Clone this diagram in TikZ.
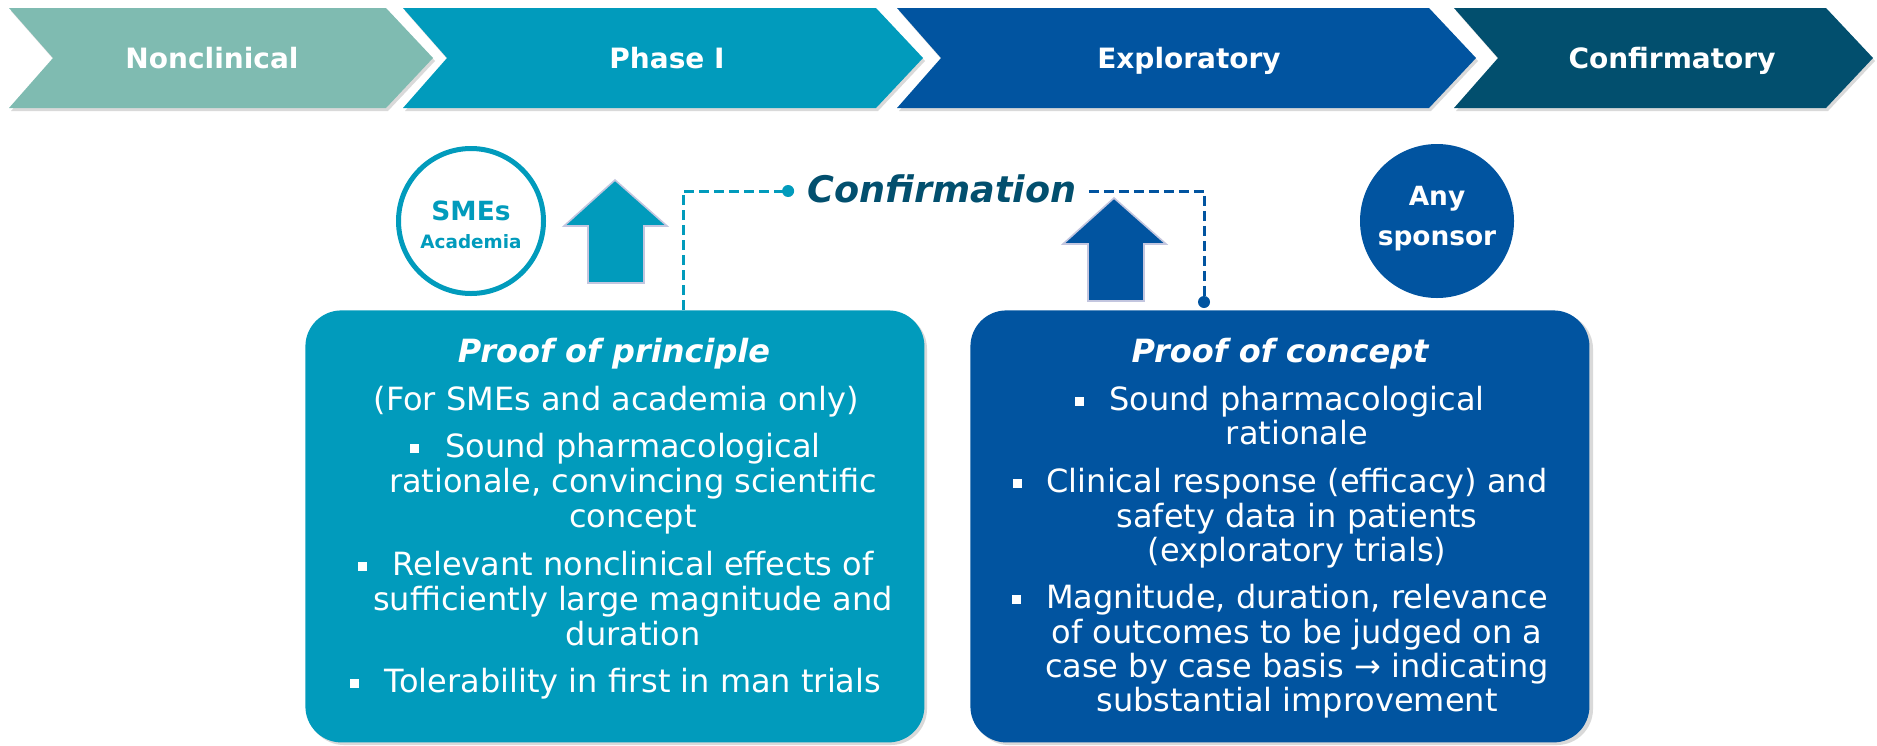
\documentclass[tikz,border=0pt]{standalone}
\usepackage{fontspec}
\setmainfont{DejaVu Sans}
\usetikzlibrary{calc}

\definecolor{cNon}{HTML}{7FBBB1}
\definecolor{cPh}{HTML}{019BBC}
\definecolor{cExp}{HTML}{0154A0}
\definecolor{cConf}{HTML}{024F6E}
\definecolor{cRim}{HTML}{C3C6DF}

\begin{document}
\begin{tikzpicture}[x=0.5pt,y=-0.5pt,
  chevlab/.style={text=white,font=\fontsize{14}{16}\selectfont\bfseries,anchor=base,inner sep=0pt},
  shade/.style={fill=black,opacity=.15},
  body/.style={text=white,font=\fontsize{16}{18}\selectfont,inner sep=0pt,anchor=mid},
  headline/.style={text=white,font=\fontsize{16}{18}\selectfont\bfseries\itshape,inner sep=0pt,anchor=mid},
  bul/.style={fill=white,minimum size=4.5pt,inner sep=0pt},
  card/.style={rounded corners=18pt,minimum width=309.5pt,minimum height=216pt,anchor=north west,inner sep=0pt},
  uparrow/.style={draw=cRim,line width=0.8pt,line join=miter},
  dashline/.style={line width=1.5pt,dash pattern=on 5pt off 2.5pt},
  circlab/.style={font=\fontsize{13.2}{15}\selectfont\bfseries,inner sep=0pt,anchor=base}
]
\useasboundingbox (0,0) rectangle (1877,745);

% phase chevrons along the top
\foreach \a/\b/\c in {9/386/cNon, 403/876/cPh, 897/1429/cExp, 1454/1826/cConf} {
  \fill[shade] (\a+2,11) -- (\b+2,11) -- (\b+49,61) -- (\b+2,111) -- (\a+2,111) -- (\a+46,61) -- cycle;
  \fill[\c] (\a,8) -- (\b,8) -- (\b+47,58) -- (\b,108) -- (\a,108) -- (\a+44,58) -- cycle;
}
\node[chevlab] (nonclin) at (212,68) {Nonclinical};
\node[chevlab] (phase1) at (667,68) {Phase I};
\node[chevlab] (explor) at (1189,68) {Exploratory};
\node[chevlab] (confirm) at (1672,68) {Confirmatory};

% the two cards
\fill[shade,rounded corners=18pt] (308,313) rectangle (927,745);
\fill[shade,rounded corners=18pt] (973,313) rectangle (1593,745);
\node[card,fill=cPh] (ppr) at (305,310) {};
\node[card,fill=cExp] (poc) at (970,310) {};

% block arrows
\filldraw[uparrow,fill=cPh] (588,283) -- (588,226) -- (564,226) -- (615,180) -- (667,226) -- (644,226) -- (644,283) -- cycle;
\filldraw[uparrow,fill=cExp] (1088,301) -- (1088,244) -- (1063,244) -- (1114,198) -- (1166,244) -- (1144,244) -- (1144,301) -- cycle;

% who may ask
\node[circle,draw=cPh,line width=2.5pt,fill=white,minimum size=72.5pt,inner sep=0pt] (smes) at (471,221) {};
\node[circlab,text=cPh] (smesA) at (471,220) {SMEs};
\node[circlab,text=cPh,font=\fontsize{9.2}{11}\selectfont\bfseries] (smesB) at (471,248) {Academia};
\node[circle,fill=cExp,minimum size=77pt,inner sep=0pt] (anysp) at (1437,221) {};
\node[circlab,text=white] (anyA) at (1437,205) {Any};
\node[circlab,text=white] (anyB) at (1437,245) {sponsor};

% confirmation link between the cards
\node[text=cConf,font=\fontsize{18.3}{21}\selectfont\bfseries\itshape,inner sep=0pt] (conf) at (942,189) {Confirmation};
\coordinate (colL) at (683,0);
\coordinate (colR) at (1204,0);
\coordinate (dotL) at ($(conf.west)+(-19,2)$);
\coordinate (startR) at ($(conf.east)+(12,2)$);
\coordinate (dotR) at ($(colR |- poc.north)+(0,-8)$);
\draw[dashline,cPh] (colL |- ppr.north) |- (dotL);
\fill[cPh] (dotL) circle (3pt);
\draw[dashline,cExp] (startR) -| (dotR);
\fill[cExp] (dotR) circle (3pt);

% proof of principle
\node[headline] (pprT) at (614,357) {Proof of principle};
\node[body] (pprS) at (616,405) {(For SMEs and academia only)};
\node[body] (pprA1) at (633,452) {Sound pharmacological};
\node[body] (pprA2) at (633,487) {rationale, convincing scientific};
\node[body] (pprA3) at (633,522) {concept};
\node[body] (pprB1) at (633,570) {Relevant nonclinical effects of};
\node[body] (pprB2) at (633,605) {sufficiently large magnitude and};
\node[body] (pprB3) at (633,640) {duration};
\node[body] (pprC1) at (633,687) {Tolerability in first in man trials};
\node[bul] (pprAb) at ($(pprA1.mid west)+(-30,-4)$) {};
\node[bul] (pprBb) at ($(pprB1.mid west)+(-30,-4)$) {};
\node[bul] (pprCb) at ($(pprC1.mid west)+(-30,-4)$) {};

% proof of concept
\node[headline] (pocT) at (1280,357) {Proof of concept};
\node[body] (pocA1) at (1297,405) {Sound pharmacological};
\node[body] (pocA2) at (1297,439) {rationale};
\node[body] (pocB1) at (1297,487) {Clinical response (efficacy) and};
\node[body] (pocB2) at (1297,522) {safety data in patients};
\node[body] (pocB3) at (1297,556) {(exploratory trials)};
\node[body] (pocC1) at (1297,603) {Magnitude, duration, relevance};
\node[body] (pocC2) at (1297,638) {of outcomes to be judged on a};
\node[body] (pocC3) at (1297,672) {case by case basis → indicating};
\node[body] (pocC4) at (1297,706) {substantial improvement};
\node[bul] (pocAb) at ($(pocA1.mid west)+(-29,-4)$) {};
\node[bul] (pocBb) at ($(pocB1.mid west)+(-29,-4)$) {};
\node[bul] (pocCb) at ($(pocC1.mid west)+(-29,-4)$) {};
\end{tikzpicture}
\end{document}
